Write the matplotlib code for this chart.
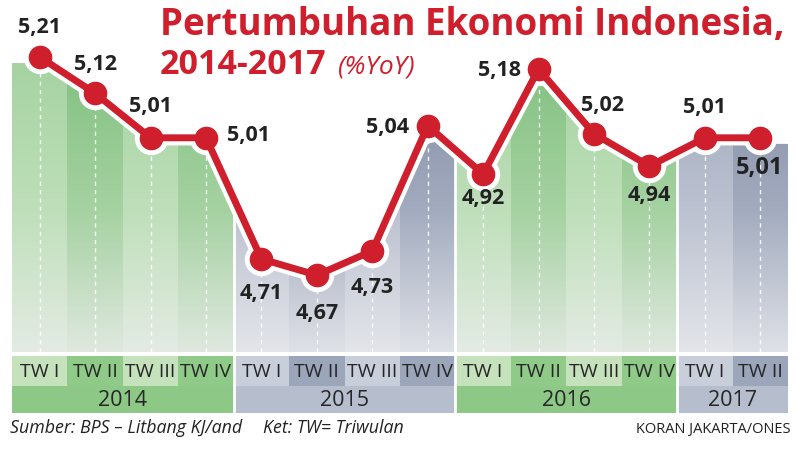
import numpy as np
import matplotlib
matplotlib.use("Agg")
import matplotlib.pyplot as plt
from matplotlib.patches import Polygon
from matplotlib.colors import to_rgb

# ---- data ----
quarters = ["TW I", "TW II", "TW III", "TW IV",
            "TW I", "TW II", "TW III", "TW IV",
            "TW I", "TW II", "TW III", "TW IV",
            "TW I", "TW II"]
years = ["2014", "2015", "2016", "2017"]
year_counts = [4, 4, 4, 2]
values = [5.21, 5.12, 5.01, 5.01,
          4.71, 4.67, 4.73, 5.04,
          4.92, 5.18, 5.02, 4.94,
          5.01, 5.01]
labels = ["5,21", "5,12", "5,01", "5,01",
          "4,71", "4,67", "4,73", "5,04",
          "4,92", "5,18", "5,02", "4,94",
          "5,01", "5,01"]
# label offsets in pixels (dx, dy)
label_off = [(0, 30), (0, 29), (0, 31), (42, 2),
             (0, -34), (0, -38), (0, -37), (-40, -2),
             (0, -24), (-39, -1), (9, 28), (0, -29),
             (0, 30), (-1, -30)]

W, H = 798, 450
fig = plt.figure(figsize=(W / 100, H / 100), dpi=100)
fig.patch.set_facecolor("white")

RED = "#cf1f2c"
FONT = ["Open Sans", "DejaVu Sans"]

x0p, x1p = 12, 788
ybot_p = 352
ax = fig.add_axes([x0p / W, 1 - ybot_p / H, (x1p - x0p) / W, ybot_p / H])
n = len(values)
x = np.arange(n)
vtop = 5.21 + 57 / 404
vbot = 5.21 - (ybot_p - 57) / 404
ax.axis("off")

off = 0.015
top = np.array(values) - off
px = np.concatenate([[-0.5], x, [n - 0.5], [n - 0.5], [-0.5]])
py = np.concatenate([[top[0]], top, [top[-1]], [vbot], [vbot]])
poly = Polygon(np.column_stack([px, py]), closed=True, transform=ax.transData,
               facecolor="none", edgecolor="none")
ax.add_patch(poly)

def grad(stops, N=256):
    t = np.linspace(0, 1, N)
    pos = [s[0] for s in stops]
    cols = np.array([to_rgb(s[1]) for s in stops])
    arr = np.zeros((N, 1, 3))
    for c in range(3):
        arr[:, 0, c] = np.interp(t, pos, cols[:, c])
    return arr[::-1]

green_dark = grad([(0, "#dfe8df"), (0.45, "#a6d2a2"), (1, "#7dbf7c")])
green_light = grad([(0, "#e4ebe4"), (0.45, "#bfdfba"), (1, "#a2d19e")])
blue_dark = grad([(0, "#dfe1e7"), (0.45, "#a3acbf"), (1, "#7d879e")])
blue_light = grad([(0, "#e3e5ea"), (0.45, "#bcc2d0"), (1, "#9aa3b7")])

year_of = []
for yi, c in enumerate(year_counts):
    year_of += [yi] * c
q_in_year = []
for c in year_counts:
    q_in_year += list(range(c))

for i in range(n):
    is_green = year_of[i] % 2 == 0
    dark = q_in_year[i] % 2 == 1
    if is_green:
        img = green_dark if dark else green_light
    else:
        img = blue_dark if dark else blue_light
    im = ax.imshow(img, extent=[i - 0.5, i + 0.5, vbot, 5.25], aspect="auto",
                   interpolation="bilinear", zorder=1)
    im.set_clip_path(poly)

ax.set_xlim(-0.5, n - 0.5)
ax.set_ylim(vbot, vtop)

bounds = np.cumsum(year_counts)[:-1] - 0.5
for b in bounds:
    ax.axvline(b, color="white", lw=2, zorder=2)

ax.vlines(x, vbot, values, colors="white", linestyles=(0, (3, 3)), lw=1,
          alpha=0.9, zorder=2)

ax.plot(x, values, color="white", lw=11, solid_capstyle="round",
        solid_joinstyle="round", zorder=3, clip_on=False)
ax.plot(x, values, "o", color="white", ms=23, zorder=3, clip_on=False)
ax.plot(x, values, color=RED, lw=5, solid_joinstyle="round", zorder=4,
        clip_on=False)
ax.plot(x, values, "o", color=RED, ms=16, mec=RED, zorder=5, clip_on=False)

for i in range(n):
    fs = 17 if i == n - 1 else 15.5
    ax.annotate(labels[i], (x[i], values[i]), xytext=label_off[i],
                textcoords="offset pixels", ha="center", va="center",
                fontsize=fs, fontweight="bold", color="#222222",
                family=FONT, zorder=6, annotation_clip=False)

bax = fig.add_axes([x0p / W, 1 - 413 / H, (x1p - x0p) / W, (413 - 356) / H])
bax.set_xlim(-0.5, n - 0.5)
bax.set_ylim(0, 2)
bax.axis("off")
q_cols = {(0, 0): "#c6e2bc", (0, 1): "#8fca89",
          (1, 0): "#c9cedb", (1, 1): "#9ca6bb"}
y_cols = ["#8dc887", "#b6bece"]
qc = [q_cols[(year_of[i] % 2, q_in_year[i] % 2)] for i in range(n)]
bax.bar(x, 1.05, bottom=0.95, width=1.0, color=qc, linewidth=0)
starts = np.concatenate([[0], np.cumsum(year_counts)[:-1]])
centers = starts + np.array(year_counts) / 2 - 0.5
bax.bar(centers, 0.95, bottom=0, width=year_counts,
        color=[y_cols[i % 2] for i in range(len(years))], linewidth=0)
for b in bounds:
    bax.axvline(b, color="white", lw=2)
for i in range(n):
    bax.text(x[i], 1.45, quarters[i], ha="center", va="center", fontsize=14,
             color="#262626", family=FONT)
for j, yl in enumerate(years):
    bax.text(centers[j], 0.45, yl, ha="center", va="center", fontsize=15.5,
             color="#262626", family=FONT)

fig.text(160 / W, 1 - 35 / H, "Pertumbuhan Ekonomi Indonesia,", fontsize=26.5,
         fontweight="bold", color=RED, family=FONT, va="baseline")
fig.text(160 / W, 1 - 74 / H, "2014-2017", fontsize=24.5,
         fontweight="bold", color=RED, family=FONT, va="baseline")
fig.text(338 / W, 1 - 74 / H, "(%YoY)", fontsize=19, style="italic",
         color=RED, family=FONT, va="baseline")

fig.text(10 / W, 1 - 433 / H, "Sumber: BPS \u2013 Litbang KJ/and", fontsize=12.8,
         style="italic", color="#222222", family=FONT, va="baseline")
fig.text(263 / W, 1 - 433 / H, "Ket: TW= Triwulan", fontsize=12.8,
         style="italic", color="#222222", family=FONT, va="baseline")
fig.text(790 / W, 1 - 433 / H, "KORAN JAKARTA/ONES", fontsize=10.5,
         color="#222222", family=FONT, va="baseline", ha="right")

fig.savefig("out.png", dpi=100, facecolor="white")
